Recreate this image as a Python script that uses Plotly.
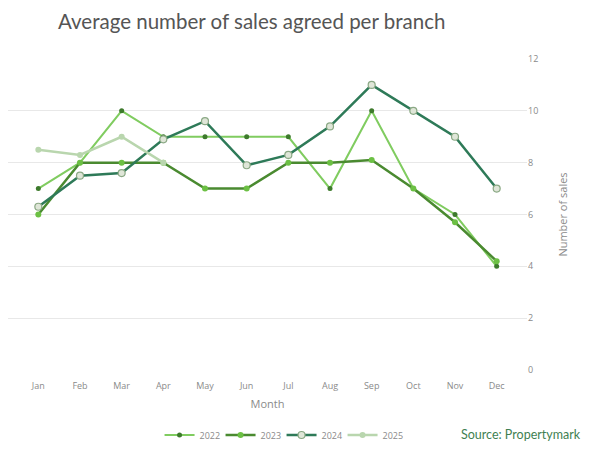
import plotly.graph_objects as go

# Average number of sales agreed per branch, by month
months = ["Jan", "Feb", "Mar", "Apr", "May", "Jun",
          "Jul", "Aug", "Sep", "Oct", "Nov", "Dec"]
sales_2022 = [7, 8, 10, 9, 9, 9, 9, 7, 10, 7, 6, 4]
sales_2023 = [6, 8, 8, 8, 7, 7, 8, 8, 8.1, 7, 5.7, 4.2]
sales_2024 = [6.3, 7.5, 7.6, 8.9, 9.6, 7.9, 8.3, 9.4, 11, 10, 9, 7]
sales_2025 = [8.5, 8.3, 9, 8]
y_ticks = [0, 2, 4, 6, 8, 10, 12]

fig = go.Figure()

# line colour, marker style per year
fig.add_trace(go.Scatter(
    x=months, y=sales_2022, name="2022", mode="lines+markers",
    line=dict(color="#80cc60", width=2),
    marker=dict(color="#3d7a2c", size=5)))
fig.add_trace(go.Scatter(
    x=months, y=sales_2023, name="2023", mode="lines+markers",
    line=dict(color="#4a8a30", width=2.5),
    marker=dict(color="#6cc044", size=6)))
fig.add_trace(go.Scatter(
    x=months, y=sales_2024, name="2024", mode="lines+markers",
    line=dict(color="#2e7a58", width=2.5),
    marker=dict(color="#dfe6d8", size=7, line=dict(color="#8aa884", width=1.2))))
fig.add_trace(go.Scatter(
    x=months[:len(sales_2025)], y=sales_2025, name="2025", mode="lines+markers",
    line=dict(color="#b9d6ae", width=2.5),
    marker=dict(color="#b9d6ae", size=6)))

# page body adds an 8px margin, so the figure is 8px smaller each way
fig.update_layout(
    width=592, height=447,
    margin=dict(l=0, r=73, t=51, b=85),
    plot_bgcolor="white", paper_bgcolor="white",
    font=dict(family="Open Sans", size=9, color="#8a8a8a"),
    title=dict(text="Average number of sales agreed per branch",
               x=0.0845, xanchor="left", y=0.969, yanchor="middle",
               font=dict(family="Lato", size=20.5, color="#555555")),
    legend=dict(orientation="h", x=0.292, xanchor="left", y=-0.209, yanchor="middle",
                font=dict(size=9, color="#8a8a8a"), itemwidth=30,
                entrywidth=16, entrywidthmode="pixels"),
    showlegend=True,
)

fig.update_xaxes(
    type="category", showgrid=False, zeroline=False, showline=False,
    ticks="outside", ticklen=7, tickcolor="rgba(0,0,0,0)",
    tickfont=dict(size=9, color="#8a8a8a"),
    title=dict(text="Month", font=dict(size=11, color="#8a8a8a"), standoff=9),
)
fig.update_yaxes(
    side="right", range=[0, 12], tickvals=y_ticks,
    showgrid=True, gridcolor="#e8e8e8", gridwidth=1,
    zeroline=False, showline=False, ticks="",
    tickfont=dict(size=9, color="#8a8a8a"),
    title=dict(text="Number of sales", font=dict(size=11, color="#8a8a8a"), standoff=22),
)

fig.add_annotation(
    text="Source: Propertymark", xref="paper", yref="paper",
    x=1.108, xanchor="right", y=-0.209, yanchor="middle",
    showarrow=False, font=dict(family="Lato", size=12.5, color="#3f7f52"))

fig.write_html("out.html")
